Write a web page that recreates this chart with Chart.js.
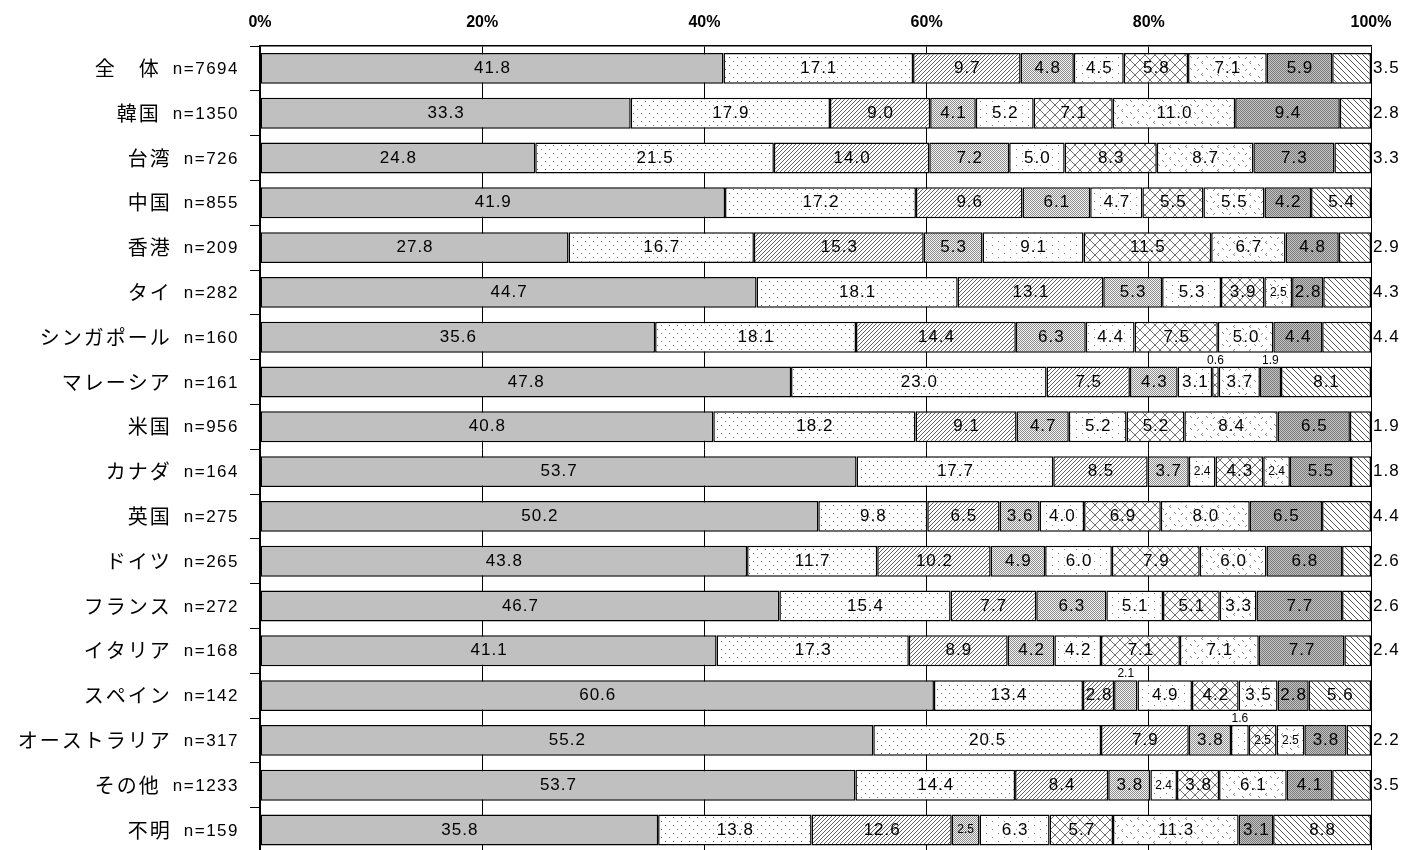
<!DOCTYPE html>
<html lang="ja">
<head>
<meta charset="UTF-8">
<title>国・地域別 構成比</title>
<script src="https://cdn.jsdelivr.net/npm/chart.js@4.4.1/dist/chart.umd.min.js"></script>
<style>
    html, body { margin: 0; padding: 0; background: #fff; overflow: hidden; }
    #wrap { width: 1424px; height: 856px; position: relative; }
</style>
</head>
<body>
<div id="wrap"><canvas id="chart"></canvas></div>
<script>
const categories = ['全　体', '韓国', '台湾', '中国', '香港', 'タイ', 'シンガポール', 'マレーシア', '米国',
    'カナダ', '英国', 'ドイツ', 'フランス', 'イタリア', 'スペイン', 'オーストラリア', 'その他', '不明'];
const sampleSizes = [7694, 1350, 726, 855, 209, 282, 160, 161, 956, 164, 275, 265, 272, 168, 142, 317, 1233, 159];
const xTicks = [0, 20, 40, 60, 80, 100];

const series1 = [41.8, 33.3, 24.8, 41.9, 27.8, 44.7, 35.6, 47.8, 40.8, 53.7, 50.2, 43.8, 46.7, 41.1, 60.6, 55.2, 53.7, 35.8];
const series2 = [17.1, 17.9, 21.5, 17.2, 16.7, 18.1, 18.1, 23.0, 18.2, 17.7, 9.8, 11.7, 15.4, 17.3, 13.4, 20.5, 14.4, 13.8];
const series3 = [9.7, 9.0, 14.0, 9.6, 15.3, 13.1, 14.4, 7.5, 9.1, 8.5, 6.5, 10.2, 7.7, 8.9, 2.8, 7.9, 8.4, 12.6];
const series4 = [4.8, 4.1, 7.2, 6.1, 5.3, 5.3, 6.3, 4.3, 4.7, 3.7, 3.6, 4.9, 6.3, 4.2, 2.1, 3.8, 3.8, 2.5];
const series5 = [4.5, 5.2, 5.0, 4.7, 9.1, 5.3, 4.4, 3.1, 5.2, 2.4, 4.0, 6.0, 5.1, 4.2, 4.9, 1.6, 2.4, 6.3];
const series6 = [5.8, 7.1, 8.3, 5.5, 11.5, 3.9, 7.5, 0.6, 5.2, 4.3, 6.9, 7.9, 5.1, 7.1, 4.2, 2.5, 3.8, 5.7];
const series7 = [7.1, 11.0, 8.7, 5.5, 6.7, 2.5, 5.0, 3.7, 8.4, 2.4, 8.0, 6.0, 3.3, 7.1, 3.5, 2.5, 6.1, 11.3];
const series8 = [5.9, 9.4, 7.3, 4.2, 4.8, 2.8, 4.4, 1.9, 6.5, 5.5, 6.5, 6.8, 7.7, 7.7, 2.8, 3.8, 4.1, 3.1];
const series9 = [3.5, 2.8, 3.3, 5.4, 2.9, 4.3, 4.4, 8.1, 1.9, 1.8, 4.4, 2.6, 2.6, 2.4, 5.6, 2.2, 3.5, 8.8];

const seriesData = [series1, series2, series3, series4, series5, series6, series7, series8, series9];

// each row is drawn as a share of its own total (100% stacked), labels keep the raw values
const rowTotals = categories.map((_, i) => seriesData.reduce((sum, s) => sum + s[i], 0));

const canvas = document.getElementById('chart');
const ctx = canvas.getContext('2d');

function makePattern(w, h, bg, fg, pixels) {
    const tile = document.createElement('canvas');
    tile.width = w;
    tile.height = h;
    const g = tile.getContext('2d');
    g.fillStyle = bg;
    g.fillRect(0, 0, w, h);
    g.fillStyle = fg;
    pixels.forEach(([px, py]) => g.fillRect(px, py, 1, 1));
    return ctx.createPattern(tile, 'repeat');
}

const range = n => Array.from({ length: n }, (_, i) => i);

const fills = [
    '#c0c0c0',
    makePattern(8, 8, '#fff', '#777', [[1, 1], [5, 5]]),
    makePattern(4, 4, '#fff', '#606060', [[3, 0], [2, 1], [1, 2], [0, 3]]),
    makePattern(2, 2, '#f4f4f4', '#8c8c8c', [[0, 0], [1, 1]]),
    makePattern(12, 8, '#fff', '#888', [[2, 1], [8, 5]]),
    makePattern(10, 10, '#fff', '#707070', range(10).flatMap(i => [[i, i], [9 - i, i]])),
    makePattern(16, 12, '#fff', '#888', [[2, 1], [1, 2], [2, 3], [10, 4], [11, 5], [6, 8], [7, 9], [14, 9], [13, 10]]),
    makePattern(2, 2, '#c4c4c4', '#7a7a7a', [[0, 0], [1, 1]]),
    makePattern(6, 6, '#fff', '#555', range(6).map(i => [i, i]))
];

const NUM_FONT = '17px "Liberation Sans", Arial, sans-serif';
const SMALL_FONT = '12px "Liberation Sans", Arial, sans-serif';

const valueLabels = {
    id: 'valueLabels',
    afterDatasetsDraw(chart) {
        const c = chart.ctx;
        const area = chart.chartArea;
        c.save();
        c.fillStyle = '#000';
        c.textBaseline = 'middle';
        seriesData.forEach((values, di) => {
            chart.getDatasetMeta(di).data.forEach((bar, i) => {
                const v = values[i];
                const text = v.toFixed(1);
                const { x, base, y, height } = bar.getProps(['x', 'base', 'y', 'height'], true);
                const cx = (x + base) / 2;
                if (di === seriesData.length - 1 && v < 5) {
                    c.font = NUM_FONT;
                    c.letterSpacing = '1px';
                    c.textAlign = 'left';
                    c.fillText(text, area.right + 2, y);
                } else if (v < 2.2) {
                    c.font = SMALL_FONT;
                    c.letterSpacing = '0px';
                    c.textAlign = 'center';
                    c.fillText(text, cx, y - height / 2 - 6);
                } else if (v <= 2.5) {
                    c.font = SMALL_FONT;
                    c.letterSpacing = '0px';
                    c.textAlign = 'center';
                    c.fillText(text, cx, y);
                } else {
                    c.font = NUM_FONT;
                    c.letterSpacing = '1px';
                    c.textAlign = 'center';
                    c.fillText(text, cx + 0.5, y);
                }
            });
        });
        c.restore();
    }
};

const categoryLabels = {
    id: 'categoryLabels',
    afterDraw(chart) {
        const c = chart.ctx;
        const yScale = chart.scales.y;
        const rightEdge = yScale.right - 21;
        c.save();
        c.fillStyle = '#000';
        c.textBaseline = 'middle';
        c.textAlign = 'left';
        categories.forEach((name, i) => {
            const y = yScale.getPixelForValue(i);
            const nText = 'n=' + sampleSizes[i];
            c.font = '17px "Liberation Sans", Arial, sans-serif';
            c.letterSpacing = '1.5px';
            const nWidth = c.measureText(nText).width;
            const nx = rightEdge - nWidth;
            c.fillText(nText, nx, y + 1);
            c.font = '20px "Noto Sans CJK JP", sans-serif';
            c.letterSpacing = '2px';
            const w = c.measureText(name).width;
            c.fillText(name, nx - 12 - w, y);
        });
        c.restore();
    }
};

new Chart(ctx, {
    type: 'bar',
    data: {
        labels: categories,
        datasets: seriesData.map((values, di) => ({
            label: '系列' + (di + 1),
            data: values.map((v, i) => v / rowTotals[i] * 100),
            backgroundColor: fills[di],
            borderColor: '#000',
            borderWidth: 1.5,
            borderSkipped: false,
            barPercentage: 0.69,
            categoryPercentage: 1.0
        }))
    },
    options: {
        indexAxis: 'y',
        responsive: true,
        maintainAspectRatio: false,
        animation: false,
        layout: { padding: { left: 0, right: 53, top: 0, bottom: 3.6 } },
        plugins: {
            legend: { display: false },
            tooltip: { enabled: false }
        },
        scales: {
            x: {
                type: 'linear',
                position: 'top',
                stacked: true,
                min: xTicks[0],
                max: xTicks[xTicks.length - 1],
                afterBuildTicks: scale => { scale.ticks = xTicks.map(v => ({ value: v })); },
                afterFit: scale => { scale.height = 46; },
                ticks: {
                    color: '#000',
                    padding: 14,
                    font: { family: '"Liberation Sans", Arial, sans-serif', size: 16, weight: 'bold' },
                    callback: v => v + '%'
                },
                grid: { color: '#000', lineWidth: 1, drawTicks: false },
                border: { color: '#000', width: 1.5 }
            },
            y: {
                stacked: true,
                afterFit: scale => { scale.width = 260; },
                ticks: { display: false },
                grid: {
                    offset: true,
                    drawOnChartArea: false,
                    drawTicks: true,
                    tickLength: 10,
                    color: '#000',
                    lineWidth: 1
                },
                border: { color: '#000', width: 1.5 }
            }
        }
    },
    plugins: [valueLabels, categoryLabels]
});
</script>
</body>
</html>
